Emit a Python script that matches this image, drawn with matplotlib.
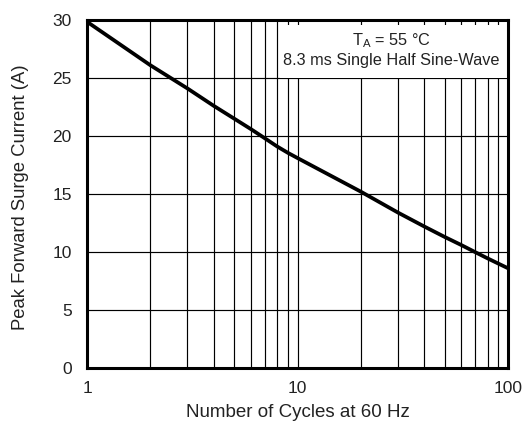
import matplotlib
matplotlib.use("Agg")
import matplotlib.pyplot as plt
from matplotlib.ticker import FixedLocator, NullFormatter, FixedFormatter
from matplotlib.patches import Rectangle

plt.rcParams['font.family'] = ['Liberation Sans', 'DejaVu Sans']

cycles = [1, 2, 3, 4, 5, 6, 7, 8, 9, 10, 20, 30, 40, 50, 60, 70, 80, 90, 100]
current = [29.85, 26.1, 24.1, 22.6, 21.5, 20.6, 19.8, 19.1, 18.55, 18.1,
           15.2, 13.4, 12.2, 11.3, 10.6, 9.98, 9.45, 9.0, 8.6]
x_ticks = [1, 10, 100]
x_tick_labels = ["1", "10", "100"]
y_ticks = [0, 5, 10, 15, 20, 25, 30]

W, H = 529, 423
fig = plt.figure(figsize=(W / 100, H / 100), dpi=100)
L, R, T, B = 87, 508, 20, 368
ax = fig.add_axes([L / W, 1 - B / H, (R - L) / W, (B - T) / H])
ax.set_xscale('log')
ax.set_xlim(1, 100)
ax.set_ylim(0, 30)

minor = [m * d for d in (1, 10) for m in range(2, 10)]
ax.xaxis.set_major_locator(FixedLocator(x_ticks))
ax.xaxis.set_major_formatter(FixedFormatter(x_tick_labels))
ax.xaxis.set_minor_locator(FixedLocator(minor))
ax.xaxis.set_minor_formatter(NullFormatter())
ax.set_yticks(y_ticks)

ax.grid(True, which='both', axis='x', color='black', linewidth=0.85)
ax.grid(True, which='major', axis='y', color='black', linewidth=0.85)
ax.set_axisbelow(True)

ax.plot(cycles, current, color='black', linewidth=2.7, solid_capstyle='butt',
        solid_joinstyle='round', zorder=3)

for s in ax.spines.values():
    s.set_linewidth(2.2)
    s.set_zorder(5)

ax.tick_params(which='both', length=0, labelsize=12.5, colors='#222222')
ax.tick_params(axis='y', pad=11)
ax.tick_params(axis='x', pad=9)

fig.text((L + R) / 2 / W, 1 - 417 / H, "Number of Cycles at 60 Hz", fontsize=13.5,
         color='#222222', ha='center', va='baseline')
fig.text(20.5 / W, 1 - 197 / H, "Peak Forward Surge Current (A)", fontsize=13.3,
         color='#222222', ha='center', va='center', rotation=90)

# annotation box
bx0 = (280 - L) / (R - L)
by0 = (B - 78) / (B - T)
by1 = (B - 25) / (B - T)
ax.add_patch(Rectangle((bx0, by0), 1 - bx0, by1 - by0, transform=ax.transAxes,
                       facecolor='white', edgecolor='none', zorder=4))
cx = (391 - L) / (R - L)
ax.text(cx, (B - 45) / (B - T), "T$_\\mathregular{A}$ = 55 °C", transform=ax.transAxes,
        ha='center', va='baseline', fontsize=11.7, color='#222222', zorder=6)
ax.text(cx, (B - 65) / (B - T), "8.3 ms Single Half Sine-Wave", transform=ax.transAxes,
        ha='center', va='baseline', fontsize=11.7, color='#222222', zorder=6)

fig.savefig("out.png", dpi=100)
